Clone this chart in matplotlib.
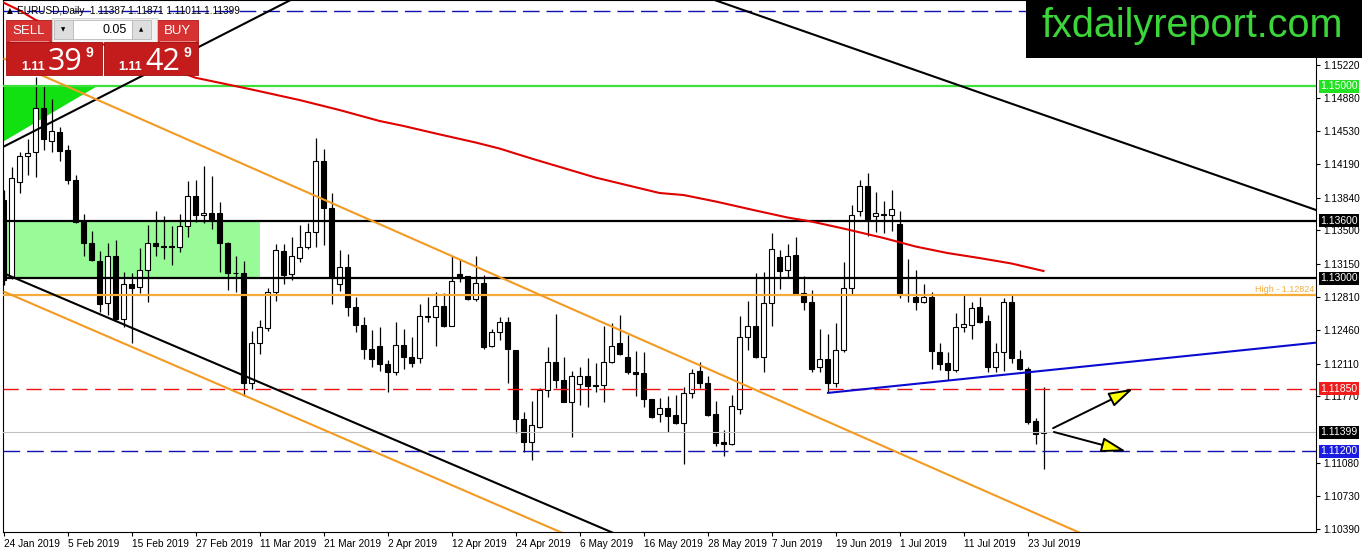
import numpy as np
import matplotlib.pyplot as plt
from matplotlib.patches import Rectangle, Polygon

plt.rcParams['font.family'] = ['Liberation Sans', 'DejaVu Sans']
plt.rcParams['lines.scale_dashes'] = False

# daily EURUSD candles, 24 Jan 2019 .. 25 Jul 2019
opens = [1.1381, 1.1301, 1.1400, 1.1427, 1.1431, 1.1477, 1.1443, 1.1452, 1.1434, 1.1402,
         1.1359, 1.1337, 1.1318, 1.1274, 1.1323, 1.1258, 1.1294, 1.1291, 1.1309, 1.1337,
         1.1334, 1.1334, 1.1333, 1.1354, 1.1386, 1.1366, 1.1368, 1.1368, 1.1337, 1.1306,
         1.1305, 1.1191, 1.1233, 1.1248, 1.1286, 1.1328, 1.1304, 1.1321, 1.1333, 1.1348,
         1.1422, 1.1373, 1.1294, 1.1312, 1.1270, 1.1251, 1.1226, 1.1229, 1.1211, 1.1202,
         1.1231, 1.1218, 1.1217, 1.1261, 1.1260, 1.1271, 1.1250, 1.1304, 1.1302, 1.1278,
         1.1295, 1.1229, 1.1244, 1.1255, 1.1225, 1.1154, 1.1130, 1.1145, 1.1184, 1.1213,
         1.1194, 1.1171, 1.1190, 1.1198, 1.1189, 1.1189, 1.1213, 1.1233, 1.1218, 1.1202,
         1.1201, 1.1174, 1.1159, 1.1165, 1.1158, 1.1149, 1.1181, 1.1204, 1.1191, 1.1159,
         1.1130, 1.1127, 1.1164, 1.1239, 1.1250, 1.1218, 1.1274, 1.1322, 1.1309, 1.1324,
         1.1285, 1.1275, 1.1208, 1.1216, 1.1191, 1.1225, 1.1290, 1.1370, 1.1396, 1.1365,
         1.1367, 1.1366, 1.1357, 1.1283, 1.1281, 1.1275, 1.1281, 1.1223, 1.1212, 1.1205,
         1.1249, 1.1251, 1.1270, 1.1256, 1.1208, 1.1223, 1.1275, 1.1216, 1.1206, 1.1151,
         1.11387]
highs = [1.1392, 1.1416, 1.1432, 1.1445, 1.1510, 1.1500, 1.1487, 1.1458, 1.1439, 1.1408,
         1.1367, 1.1349, 1.1328, 1.1337, 1.1340, 1.1307, 1.1305, 1.1332, 1.1356, 1.1370,
         1.1365, 1.1354, 1.1367, 1.1401, 1.1402, 1.1417, 1.1407, 1.1379, 1.1338, 1.1323,
         1.1318, 1.1245, 1.1257, 1.1290, 1.1336, 1.1336, 1.1343, 1.1356, 1.1358, 1.1446,
         1.1435, 1.1389, 1.1329, 1.1325, 1.1281, 1.1260, 1.1246, 1.1249, 1.1215, 1.1254,
         1.1247, 1.1239, 1.1273, 1.1281, 1.1286, 1.1285, 1.1323, 1.1320, 1.1302, 1.1323,
         1.1303, 1.1247, 1.1260, 1.1260, 1.1225, 1.1161, 1.1172, 1.1186, 1.1228, 1.1263,
         1.1218, 1.1204, 1.1208, 1.1217, 1.1212, 1.1250, 1.1253, 1.1262, 1.1241, 1.1224,
         1.1223, 1.1174, 1.1175, 1.1177, 1.1179, 1.1187, 1.1206, 1.1213, 1.1198, 1.1172,
         1.1142, 1.1179, 1.1261, 1.1276, 1.1305, 1.1307, 1.1347, 1.1329, 1.1336, 1.1343,
         1.1302, 1.1288, 1.1247, 1.1242, 1.1253, 1.1317, 1.1376, 1.1402, 1.1410, 1.1390,
         1.1380, 1.1392, 1.1370, 1.1320, 1.1309, 1.1294, 1.1286, 1.1233, 1.1223, 1.1264,
         1.1284, 1.1275, 1.1281, 1.1262, 1.1233, 1.1279, 1.1283, 1.1225, 1.1208, 1.1155,
         1.11871]
lows = [1.1293, 1.1299, 1.1389, 1.1408, 1.1405, 1.1434, 1.1432, 1.1422, 1.1398, 1.1358,
        1.1323, 1.1318, 1.1265, 1.1262, 1.1257, 1.1249, 1.1233, 1.1285, 1.1275, 1.1323,
        1.1320, 1.1314, 1.1327, 1.1343, 1.1359, 1.1358, 1.1351, 1.1307, 1.1288, 1.1286,
        1.1177, 1.1185, 1.1221, 1.1245, 1.1276, 1.1294, 1.1298, 1.1317, 1.1331, 1.1333,
        1.1335, 1.1273, 1.1287, 1.1261, 1.1244, 1.1216, 1.1208, 1.1203, 1.1182, 1.1199,
        1.1206, 1.1208, 1.1212, 1.1254, 1.1229, 1.1249, 1.1250, 1.1296, 1.1277, 1.1276,
        1.1226, 1.1228, 1.1236, 1.1191, 1.1139, 1.1119, 1.1111, 1.1144, 1.1176, 1.1186,
        1.1171, 1.1135, 1.1168, 1.1166, 1.1182, 1.1171, 1.1212, 1.1220, 1.1200, 1.1177,
        1.1166, 1.1155, 1.1150, 1.1140, 1.1148, 1.1107, 1.1175, 1.1186, 1.1157, 1.1125,
        1.1115, 1.1126, 1.1159, 1.1225, 1.1217, 1.1202, 1.1250, 1.1289, 1.1301, 1.1283,
        1.1267, 1.1202, 1.1202, 1.1182, 1.1187, 1.1223, 1.1283, 1.1365, 1.1344, 1.1348,
        1.1347, 1.1349, 1.1280, 1.1275, 1.1267, 1.1274, 1.1206, 1.1205, 1.1194, 1.1202,
        1.1244, 1.1237, 1.1253, 1.1202, 1.1202, 1.1203, 1.1212, 1.1205, 1.1148, 1.1127,
        1.11011]
closes = [1.1298, 1.1404, 1.1427, 1.1430, 1.1477, 1.1445, 1.1453, 1.1433, 1.1402, 1.1359,
          1.1337, 1.1319, 1.1273, 1.1323, 1.1258, 1.1294, 1.1290, 1.1309, 1.1337, 1.1334,
          1.1333, 1.1333, 1.1354, 1.1386, 1.1366, 1.1368, 1.1362, 1.1337, 1.1305, 1.1305,
          1.1191, 1.1233, 1.1249, 1.1286, 1.1329, 1.1303, 1.1323, 1.1333, 1.1348, 1.1422,
          1.1373, 1.1301, 1.1312, 1.1270, 1.1251, 1.1226, 1.1216, 1.1211, 1.1202, 1.1231,
          1.1218, 1.1212, 1.1261, 1.1260, 1.1271, 1.1250, 1.1297, 1.1300, 1.1278, 1.1295,
          1.1228, 1.1244, 1.1255, 1.1226, 1.1154, 1.1130, 1.1147, 1.1184, 1.1213, 1.1194,
          1.1171, 1.1198, 1.1198, 1.1188, 1.1188, 1.1213, 1.1229, 1.1221, 1.1202, 1.1200,
          1.1174, 1.1156, 1.1165, 1.1157, 1.1149, 1.1181, 1.1201, 1.1191, 1.1158, 1.1129,
          1.1127, 1.1167, 1.1239, 1.1250, 1.1218, 1.1274, 1.1331, 1.1308, 1.1323, 1.1284,
          1.1275, 1.1206, 1.1216, 1.1191, 1.1225, 1.1290, 1.1366, 1.1396, 1.1362, 1.1368,
          1.1366, 1.1372, 1.1283, 1.1284, 1.1275, 1.1281, 1.1224, 1.1211, 1.1205, 1.1249,
          1.1252, 1.1269, 1.1255, 1.1208, 1.1223, 1.1275, 1.1217, 1.1206, 1.1150, 1.1138,
          1.11399]

date_bars = list(range(0, 129, 8))
date_labels = ['24 Jan 2019', '5 Feb 2019', '15 Feb 2019', '27 Feb 2019', '11 Mar 2019',
               '21 Mar 2019', '2 Apr 2019', '12 Apr 2019', '24 Apr 2019', '6 May 2019',
               '16 May 2019', '28 May 2019', '7 Jun 2019', '19 Jun 2019', '1 Jul 2019',
               '11 Jul 2019', '23 Jul 2019']
price_ticks = [1.15220, 1.14880, 1.14530, 1.14190, 1.13840, 1.13500, 1.13150, 1.12810,
               1.12460, 1.12110, 1.11770, 1.11080, 1.10730, 1.10390]

# moving average (red), sampled at a few bars
ma_bars = [0, 2, 4, 24, 31, 37, 42, 47, 50, 54, 59, 62, 66, 70, 74, 82, 85, 89, 94, 98,
           101, 105, 110, 114, 118, 122, 126, 130]
ma_vals = [1.1587, 1.1579, 1.1569, 1.15088, 1.14966, 1.14856, 1.14752, 1.14638, 1.14586,
           1.14508, 1.14414, 1.14351, 1.14247, 1.14148, 1.14049, 1.13888, 1.13867, 1.13800,
           1.13706, 1.13633, 1.13591, 1.13518, 1.13420, 1.13331, 1.13263, 1.13211, 1.13154,
           1.13076]

# horizontal levels
lvl_green = 1.15000
lvl_top = 1.13600
lvl_mid = 1.13000
lvl_high = 1.12824
lvl_red = 1.11850
lvl_last = 1.11399
lvl_blue = 1.11200
lvl_far = 1.15785

# trend lines as (bar, price) anchors
tl_black_up = [(0, 1.14370), (36, 1.15902)]
tl_black_top = [(88, 1.15923), (165, 1.13684)]
tl_black_low = [(0, 1.13053), (78, 1.10286)]
tl_orange_up = [(0, 1.15289), (136, 1.10297)]
tl_orange_low = [(0, 1.12863), (72, 1.10272)]
tl_blue = [(102.94, 1.11806), (164.06, 1.12330)]
zone_bars = (-1, 32)
tri_pts = [(-0.5, 1.1500), (11.7, 1.1500), (-0.5, 1.1440)]
arrow_up = [(131.2, 1.1144), (141.2, 1.1185)]
arrow_dn = [(131.3, 1.1140), (140.3, 1.1120)]

fig = plt.figure(figsize=(13.62, 5.53), dpi=100)
ax = fig.add_axes([3 / 1362, 21 / 553, 1313 / 1362, 532 / 553])
ax.set_xlim(-0.0625, 164.0625)
ax.set_ylim(1.103587, 1.158974)

# zone and triangle
ax.add_patch(Rectangle((zone_bars[0], lvl_mid), zone_bars[1] - zone_bars[0], lvl_top - lvl_mid,
                       fc='#98fb98', ec='none', zorder=1))
ax.add_patch(Polygon(tri_pts, closed=True, fc='#11e011', ec='none', zorder=1))

# candles
for i in range(len(opens)):
    o, h, l, c = opens[i], highs[i], lows[i], closes[i]
    ax.vlines(i, l, h, color='black', lw=0.9, zorder=3)
    if abs(c - o) < 0.00004:
        ax.hlines((o + c) / 2, i - 0.31, i + 0.31, color='black', lw=1.1, zorder=3)
    else:
        fc = 'white' if c > o else 'black'
        ax.add_patch(Rectangle((i - 0.31, min(o, c)), 0.62, abs(c - o),
                               fc=fc, ec='black', lw=0.8, zorder=3))

# levels
ax.axhline(lvl_green, color='#3ee03e', lw=1.6, zorder=4)
ax.axhline(lvl_top, color='black', lw=1.6, zorder=4)
ax.axhline(lvl_mid, color='black', lw=1.6, zorder=4)
ax.axhline(lvl_high, color='#f5ad3a', lw=1.6, zorder=4)
ax.axhline(lvl_red, color='#ee1111', lw=1.0, dashes=(11, 5.5), zorder=4)
ax.axhline(lvl_last, color='#c0c0c0', lw=0.8, zorder=4)
ax.axhline(lvl_blue, color='#1010b0', lw=1.0, dashes=(12, 5), zorder=4)
ax.axhline(lvl_far, color='#1010b0', lw=1.0, dashes=(12, 5), zorder=4)

# trend lines
def seg(pts, **kw):
    ax.plot([p[0] for p in pts], [p[1] for p in pts], solid_capstyle='butt', zorder=4, **kw)

seg(tl_black_up, color='black', lw=1.5)
seg(tl_black_top, color='black', lw=1.5)
seg(tl_black_low, color='black', lw=1.5)
seg(tl_orange_up, color='#f39a22', lw=1.5)
seg(tl_orange_low, color='#f39a22', lw=1.5)
seg(tl_blue, color='#0a0ad0', lw=1.5)
ax.plot(ma_bars, ma_vals, color='#e00000', lw=1.5, zorder=4)

for a in (arrow_up, arrow_dn):
    ax.annotate('', xy=a[1], xytext=a[0],
                arrowprops=dict(arrowstyle='-|>,head_length=1.25,head_width=0.38',
                                fc='#ffff00', ec='black', lw=1.4, mutation_scale=12,
                                shrinkA=0, shrinkB=0), zorder=5)

ax.annotate('High - 1.12824', xy=(1, lvl_high), xycoords=('axes fraction', 'data'),
            xytext=(-1.5, 1.2), textcoords='offset points', ha='right', va='bottom',
            color='#f5ad3a', fontsize=6.5)

# right side labels of the levels
for val, col in [(lvl_green, '#22e022'), (lvl_top, 'black'), (lvl_mid, 'black'),
                 (lvl_red, '#ee1c1c'), (lvl_last, 'black'), (lvl_blue, '#1c1ce0')]:
    ax.annotate(f'{val:.5f}', xy=(1, val), xycoords=('axes fraction', 'data'),
                xytext=(3.0, 0), textcoords='offset points', ha='left', va='center',
                color='white', fontsize=7.5, zorder=8, annotation_clip=False,
                bbox=dict(boxstyle='square,pad=0.14', fc=col, ec='none'))

# axes look
for s in ax.spines.values():
    s.set_color('black')
    s.set_linewidth(0.8)
ax.yaxis.tick_right()
ax.set_yticks(price_ticks)
ax.set_yticklabels([f'{v:.5f}' for v in price_ticks])
ax.set_xticks(date_bars)
ax.set_xticklabels(date_labels, ha='left')
ax.tick_params(axis='y', direction='out', length=3, width=0.8, pad=2, labelsize=7.3)
ax.tick_params(axis='x', direction='out', length=3, width=0.8, pad=2, labelsize=7.3)

# overlay in pixel coordinates: trade panel and logo
ov = fig.add_axes([0, 0, 1, 1], zorder=10)
ov.set_xlim(0, 1362)
ov.set_ylim(553, 0)
ov.axis('off')
ov.patch.set_alpha(0)

ov.add_patch(Rectangle((1026, 0), 336, 58, fc='black', ec='none'))
ov.text(1042, 37, 'fxdailyreport.com', color='#3ad63a', fontsize=28.5, va='baseline', ha='left')

ov.text(7, 13, '\u25b2', fontsize=5.5, family='DejaVu Sans', va='baseline', color='black')
ov.text(17, 13.5, 'EURUSD,Daily  1.11387 1.11871 1.11011 1.11399', fontsize=7.2,
        va='baseline', color='black')

red_btn = '#d63232'
red_big = '#c41c1c'
ov.add_patch(Rectangle((6, 20), 46, 22, fc=red_btn, ec='#b01818', lw=0.6))
ov.add_patch(Rectangle((157, 20), 41, 22, fc=red_btn, ec='#b01818', lw=0.6))
ov.add_patch(Rectangle((52, 18), 105, 24, fc='#f2f2f2', ec='#d0d0d0', lw=0.6))
ov.add_patch(Rectangle((54, 20), 19, 19, fc='#dedede', ec='#b8b8b8', lw=0.6))
ov.add_patch(Rectangle((73, 20), 59, 19, fc='white', ec='#b8b8b8', lw=0.6))
ov.add_patch(Rectangle((132, 20), 19, 19, fc='#dedede', ec='#b8b8b8', lw=0.6))
ov.text(63.5, 30, '\u25bc', fontsize=4, family='DejaVu Sans', ha='center', va='center')
ov.text(141.5, 30, '\u25b2', fontsize=4, family='DejaVu Sans', ha='center', va='center')
ov.text(127, 30, '0.05', fontsize=9, ha='right', va='center')
ov.text(29, 31, 'SELL', fontsize=9.5, color='white', ha='center', va='center')
ov.text(177.5, 31, 'BUY', fontsize=9.5, color='white', ha='center', va='center')
ov.add_patch(Rectangle((6, 42), 96, 33, fc=red_big, ec='#a01010', lw=0.6))
ov.add_patch(Rectangle((104, 42), 94, 33, fc=red_big, ec='#a01010', lw=0.6))
ov.plot([10, 48], [41, 41], color='#f09a9a', lw=0.6)
ov.plot([160, 195], [41, 41], color='#f09a9a', lw=0.6)
for x0, big in [(21, '39'), (118, '42')]:
    ov.text(x0, 70, '1.11', fontsize=9, fontweight='bold', color='white', va='baseline')
    ov.text(x0 + 27, 70.5, big, fontsize=22, family=['Open Sans', 'Liberation Sans'],
            color='white', va='baseline')
    ov.text(x0 + 65, 57, '9', fontsize=10, fontweight='bold', color='white', va='baseline')

fig.savefig('out.png', dpi=100)
